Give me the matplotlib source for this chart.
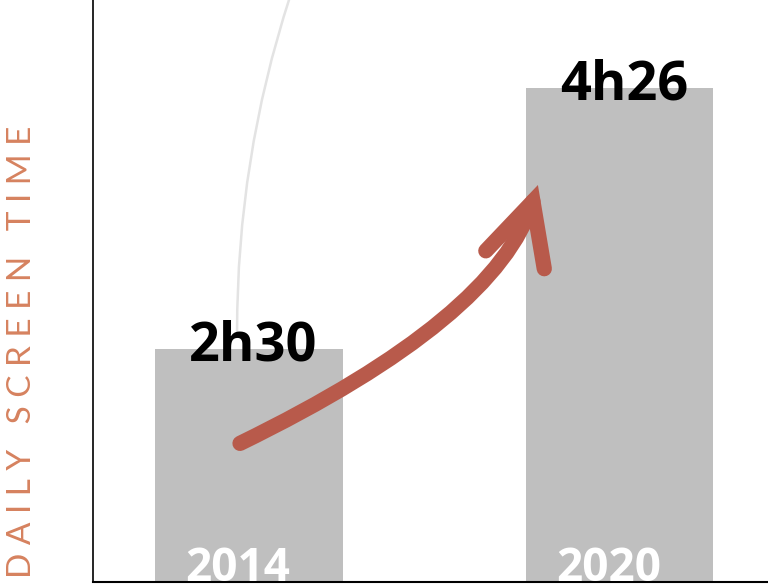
import matplotlib.pyplot as plt
from matplotlib.patches import FancyArrowPatch

years = ['2014', '2020']
minutes = [150, 266]
labels = ['2h30', '4h26']

bar_color = '#bfbfbf'
arrow_color = '#b85a4b'
label_color = '#d6825f'

fig = plt.figure(figsize=(7.68, 5.86), dpi=100)
ax = fig.add_axes([0.121, 0.0068, 0.879, 0.9932])

x = range(len(years))
bars = ax.bar(x, minutes, width=0.507, color=bar_color, zorder=2)

ax.set_xlim(-0.421, 1.401)
ax.set_ylim(46.4, 305)

for xi, m, lab in zip(x, minutes, labels):
    ax.text(xi + 0.012, m + 1, lab, ha='center', va='center', fontsize=39,
            fontweight='bold', family='Open Sans', color='black', zorder=4)

for xi, yr in zip(x, years):
    ax.text(xi - 0.03, 47.0, yr, ha='center', va='baseline', fontsize=33,
            fontweight='bold', family='Open Sans', color='white', zorder=3)

# faint gray curve in the background
bg = FancyArrowPatch((-0.032, 158), (0.11, 306), arrowstyle='-',
                     connectionstyle='angle3,angleA=90,angleB=72',
                     color='#e3e3e3', lw=1.8, zorder=1, shrinkA=0, shrinkB=0)
ax.add_patch(bg)

# growth arrow
arr = FancyArrowPatch((-0.024, 108), (0.78, 222.8),
                      arrowstyle='->,head_length=44,head_width=22',
                      connectionstyle='angle3,angleA=26,angleB=73',
                      color=arrow_color, lw=11, capstyle='round',
                      joinstyle='miter', shrinkA=0, shrinkB=0, zorder=5)
ax.add_patch(arr)

for s in ['top', 'right']:
    ax.spines[s].set_visible(False)
ax.spines['left'].set_linewidth(1.2)
ax.spines['bottom'].set_linewidth(1.5)
ax.set_xticks([])
ax.set_yticks([])

fig.text(0.028, 0.399, 'D A I L Y   S C R E E N   T I M E', rotation=90,
         ha='center', va='center', fontsize=24, family='Lato',
         fontweight='normal', color=label_color)

fig.savefig('out.png', dpi=100)
